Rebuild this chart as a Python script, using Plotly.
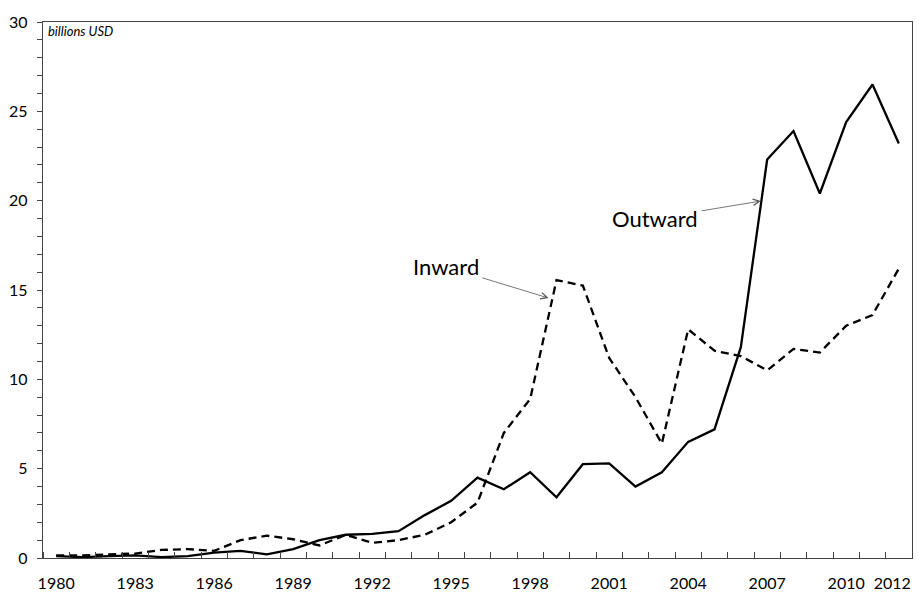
#%% imports and data
import plotly.graph_objects as go

years = list(range(1980, 2013))
outward = [
    0.1, 0.05, 0.1, 0.15, 0.05, 0.1, 0.3, 0.4, 0.2, 0.5, 1.0,
    1.3, 1.35, 1.5, 2.4, 3.2, 4.5, 3.85, 4.8, 3.4, 5.25, 5.3,
    4.0, 4.8, 6.5, 7.2, 11.8, 22.3, 23.9, 20.4, 24.4, 26.5, 23.2,
]
inward = [
    0.15, 0.15, 0.2, 0.25, 0.45, 0.5, 0.4, 1.0, 1.25, 1.05, 0.7,
    1.3, 0.85, 1.0, 1.3, 2.0, 3.1, 7.0, 8.9, 15.55, 15.25, 11.2,
    9.0, 6.4, 12.8, 11.6, 11.3, 10.5, 11.7, 11.5, 13.0, 13.6, 16.2,
]
x_tick_labels = ["1980", "1983", "1986", "1989", "1992", "1995", "1998",
                 "2001", "2004", "2007", "2010", "2012"]
FONT = "Lato, Open Sans, sans-serif"

# last label sits a bit left of its category centre, as in the original
x_tick_pos = [int(t) for t in x_tick_labels]
x_tick_pos[-1] -= 0.25

#%% figure
fig = go.Figure()
fig.add_trace(
    go.Scatter(x=years, y=inward, mode="lines", name="Inward",
               line={"color": "black", "width": 2.3, "dash": "8px,5px"})
)
fig.add_trace(
    go.Scatter(x=years, y=outward, mode="lines", name="Outward",
               line={"color": "black", "width": 2.3})
)

# labels with thin arrows (text placed at the arrow tail)
fig.add_annotation(x=1998.7, y=14.55, ax=1994.8, ay=16.3, axref="x", ayref="y",
                   text="Inward", showarrow=True, arrowhead=5, arrowsize=1.6,
                   arrowwidth=0.8, arrowcolor="#555", standoff=0, startstandoff=2,
                   font={"family": FONT, "size": 22, "color": "black"})
fig.add_annotation(x=2006.76, y=19.98, ax=2002.75, ay=19.0, axref="x", ayref="y",
                   text="Outward", showarrow=True, arrowhead=5, arrowsize=1.6,
                   arrowwidth=0.8, arrowcolor="#555", standoff=0, startstandoff=2,
                   font={"family": FONT, "size": 22, "color": "black"})
fig.add_annotation(x=0, y=1, xref="paper", yref="paper", xanchor="left", yanchor="top",
                   xshift=3, yshift=1, showarrow=False, text="<i>billions USD</i>",
                   font={"family": FONT, "size": 13, "color": "black"})

fig.update_xaxes(
    range=[1979.5, 2012.5], tickvals=x_tick_pos, ticktext=x_tick_labels, ticks="",
    showgrid=False, automargin=False, ticklabeloverflow="allow",
    showline=True, linecolor="#444", linewidth=1.3, mirror=True, zeroline=False,
    ticklabelstandoff=11, tickfont={"family": FONT, "size": 16, "color": "black"},
    minor={"ticks": "inside", "tick0": 1979.5, "dtick": 1, "ticklen": 6,
           "tickcolor": "#444", "showgrid": False},
)
fig.update_yaxes(
    range=[0, 30], dtick=5, ticks="outside", ticklen=5, tickcolor="#444",
    showgrid=False, zeroline=False, showline=True, linecolor="#444", linewidth=1.3,
    mirror=True, ticklabelstandoff=6, automargin=False, ticklabeloverflow="allow",
    tickfont={"family": FONT, "size": 16, "color": "black"},
    minor={"ticks": "outside", "dtick": 1, "ticklen": 5, "tickcolor": "#444",
           "showgrid": False},
)
fig.update_layout(
    width=919, height=593, showlegend=False,
    margin={"l": 43, "r": 7, "t": 22, "b": 35},
    plot_bgcolor="white", paper_bgcolor="white",
)
# drop the browser's default body margin so the figure fills the window
fig.write_html("out.html", config={"displayModeBar": False},
               post_script="document.body.style.margin = '0';")
